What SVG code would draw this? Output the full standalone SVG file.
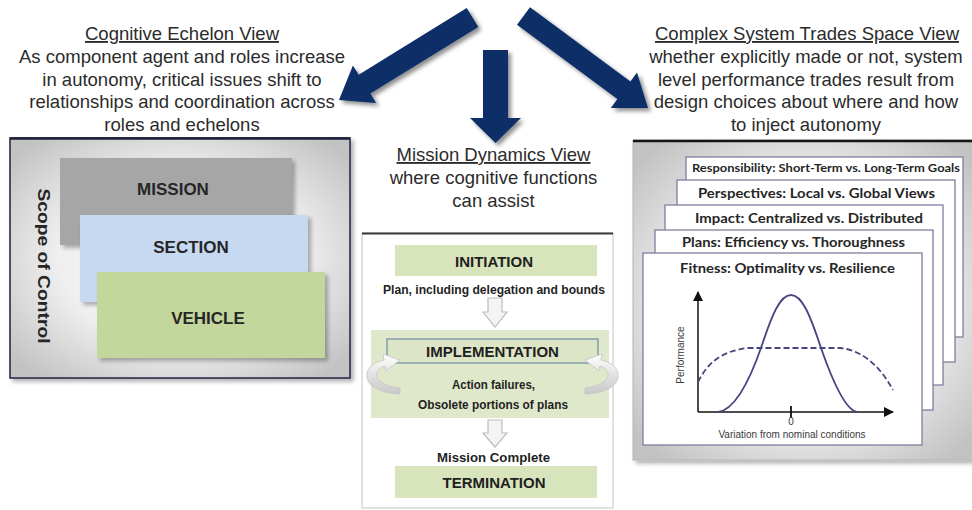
<svg xmlns="http://www.w3.org/2000/svg" width="972" height="510" viewBox="0 0 972 510">
<style>
.hdr{font-family:"Liberation Sans",Arial,sans-serif;font-size:18.5px;fill:#2b2b2b;text-anchor:middle}
.ul{text-decoration:underline}
.lvl{font-family:"Liberation Sans",Arial,sans-serif;font-size:17px;font-weight:bold;fill:#262626;text-anchor:middle}
.mid{font-family:"Liberation Sans",Arial,sans-serif;font-weight:bold;fill:#1f1f1f;text-anchor:middle}
.card{fill:#ffffff;stroke:#7d7f9c;stroke-width:1.3}
.ct{font-family:Lato,"Liberation Sans",sans-serif;font-weight:bold;fill:#262626;text-anchor:middle}
.ax{font-family:"Liberation Sans",Arial,sans-serif;font-size:10px;fill:#3a3a3a;text-anchor:middle}
.big{fill:#0a2f66;filter:url(#sh)}
.small{fill:#f4f4f4;stroke:#bdbdbd;stroke-width:1.2}
.curl{fill:url(#curlG);stroke:#c4c4c4;stroke-width:0.8}
</style>
<defs>
<filter id="sh" x="-20%" y="-20%" width="150%" height="150%"><feDropShadow dx="3" dy="3" stdDeviation="2" flood-color="#000" flood-opacity="0.45"/></filter>
<filter id="sh2" x="-10%" y="-10%" width="130%" height="130%"><feDropShadow dx="3" dy="3" stdDeviation="2" flood-color="#000" flood-opacity="0.3"/></filter>
<radialGradient id="panelG" cx="50%" cy="50%" r="65%"><stop offset="0" stop-color="#ffffff"/><stop offset="0.55" stop-color="#efefef"/><stop offset="1" stop-color="#c2c2c2"/></radialGradient>
<linearGradient id="curlG" x1="0" y1="0" x2="0" y2="1"><stop offset="0" stop-color="#ffffff"/><stop offset="1" stop-color="#c8c8c8"/></linearGradient>
<marker id="axh" viewBox="0 0 10 10" refX="9" refY="5" markerWidth="7" markerHeight="7" orient="auto"><path d="M0,0 L10,5 L0,10 Z" fill="#111"/></marker>
</defs>
<rect width="972" height="510" fill="#ffffff"/>

<g id="cognitive-echelon-text">
<text class="hdr ul" x="182" y="40">Cognitive Echelon View</text>
<text class="hdr" x="182" y="63">As component agent and roles increase</text>
<text class="hdr" x="182" y="85.5">in autonomy, critical issues shift to</text>
<text class="hdr" x="182" y="108">relationships and coordination across</text>
<text class="hdr" x="182" y="130.5">roles and echelons</text>
</g>

<g id="trades-space-text">
<text class="hdr ul" x="807" y="40">Complex System Trades Space View</text>
<text class="hdr" x="806" y="63">whether explicitly made or not, system</text>
<text class="hdr" x="806" y="85.5">level performance trades result from</text>
<text class="hdr" x="806" y="108">design choices about where and how</text>
<text class="hdr" x="806" y="130.5">to inject autonomy</text>
</g>

<g id="mission-dynamics-text">
<text class="hdr ul" x="493.5" y="161">Mission Dynamics View</text>
<text class="hdr" x="493.5" y="184">where cognitive functions</text>
<text class="hdr" x="493.5" y="206.5">can assist</text>
</g>

<g id="echelon-panel">
<rect x="10" y="138" width="340" height="240" fill="url(#panelG)" stroke="#2a2d4a" stroke-width="1.6" filter="url(#sh2)"/>
<line x1="10" y1="138.5" x2="350" y2="138.5" stroke="#1c1f38" stroke-width="2.5"/>
<text class="lvl" transform="translate(38,266) rotate(90)" text-anchor="middle" font-size="25" textLength="155" lengthAdjust="spacingAndGlyphs">Scope of Control</text>
</g>
<g id="mission">
<rect x="60" y="158" width="232" height="87" fill="#a6a6a6" filter="url(#sh2)"/>
<text class="lvl" x="173" y="195">MISSION</text>
</g>
<g id="section">
<rect x="80" y="215" width="228" height="87" fill="#c6d9f0" filter="url(#sh2)"/>
<text class="lvl" x="191" y="253">SECTION</text>
</g>
<g id="vehicle">
<rect x="97" y="272" width="228" height="86" fill="#c3d69b" filter="url(#sh2)"/>
<text class="lvl" x="208" y="324">VEHICLE</text>
</g>

<g id="dynamics-panel">
<rect x="362" y="233" width="251" height="275" fill="#ffffff" stroke="#c4c4c4" stroke-width="1"/>
<line x1="362" y1="233.5" x2="613" y2="233.5" stroke="#3a3a3a" stroke-width="2"/>
</g>
<g id="initiation">
<rect x="395" y="245" width="202" height="31" fill="#d8e4bc"/>
<text class="mid" x="494" y="267" font-size="15">INITIATION</text>
<text class="mid" x="494" y="294" font-size="12.5" textLength="222" lengthAdjust="spacingAndGlyphs">Plan, including delegation and bounds</text>
</g>
<g id="implementation">
<rect x="371" y="330" width="238" height="88" fill="#dfe8cb"/>
<rect x="387" y="339" width="211" height="24" fill="#dce6c6" stroke="#56789c" stroke-width="1"/>
<text class="mid" x="492.5" y="357" font-size="15">IMPLEMENTATION</text>
<text class="mid" x="493.5" y="389" font-size="13" textLength="83" lengthAdjust="spacingAndGlyphs">Action failures,</text>
<text class="mid" x="493" y="409" font-size="13" textLength="150" lengthAdjust="spacingAndGlyphs">Obsolete portions of plans</text>
<path class="curl" d="M400,394 C378,393 365,385 367,373 C369,366 375,362 384,360 L383,354 L400,360 L386,371 L385,366 C379,368 376,372 377,376 C379,383 388,387 400,388 Z"/>
<path class="curl" transform="translate(985,0) scale(-1,1)" d="M400,394 C378,393 365,385 367,373 C369,366 375,362 384,360 L383,354 L400,360 L386,371 L385,366 C379,368 376,372 377,376 C379,383 388,387 400,388 Z"/>
</g>
<g id="termination">
<text class="mid" x="493.5" y="462" font-size="13" textLength="113" lengthAdjust="spacingAndGlyphs">Mission Complete</text>
<rect x="395" y="466" width="202" height="32" fill="#d8e4bc"/>
<text class="mid" x="494" y="488" font-size="15">TERMINATION</text>
</g>

<g id="trades-panel">
<rect x="633" y="140" width="345" height="320" fill="url(#panelG)" stroke="#b5b5b5" stroke-width="1" filter="url(#sh2)"/>
<line x1="633" y1="141" x2="972" y2="141" stroke="#151515" stroke-width="2.5"/>
</g>
<g id="card-responsibility">
<rect class="card" x="686" y="157" width="277" height="180"/>
<text class="ct" x="826" y="172" font-size="12" textLength="268" lengthAdjust="spacingAndGlyphs">Responsibility: Short-Term vs. Long-Term Goals</text>
</g>
<g id="card-perspectives">
<rect class="card" x="677" y="180" width="278" height="182"/>
<text class="ct" x="816.5" y="198" font-size="14" textLength="237" lengthAdjust="spacingAndGlyphs">Perspectives: Local vs. Global Views</text>
</g>
<g id="card-impact">
<rect class="card" x="665" y="205" width="278" height="180"/>
<text class="ct" x="809" y="223" font-size="14" textLength="228" lengthAdjust="spacingAndGlyphs">Impact: Centralized vs. Distributed</text>
</g>
<g id="card-plans">
<rect class="card" x="655" y="230" width="278" height="180"/>
<text class="ct" x="793.5" y="247" font-size="14" textLength="223" lengthAdjust="spacingAndGlyphs">Plans: Efficiency vs. Thoroughness</text>
</g>
<g id="card-fitness">
<rect class="card" x="643" y="253" width="279" height="192"/>
<text class="ct" x="787.5" y="273" font-size="14" textLength="215" lengthAdjust="spacingAndGlyphs">Fitness: Optimality vs. Resilience</text>
<line x1="698" y1="412" x2="698" y2="292" stroke="#111" stroke-width="1.5" marker-end="url(#axh)"/>
<line x1="698" y1="412" x2="893" y2="412" stroke="#111" stroke-width="1.5" marker-end="url(#axh)"/>
<line x1="791" y1="406" x2="791" y2="418" stroke="#111" stroke-width="1.8"/>
<text class="ax" x="791" y="425">0</text>
<text class="ax" x="792" y="438">Variation from nominal conditions</text>
<text class="ax" transform="translate(684,355) rotate(-90)">Performance</text>
<path d="M718,412 C735,410 750,380 762,345 C772,315 780,295 791,295 C802,295 810,315 820,345 C832,380 845,410 857,412" fill="none" stroke="#45457f" stroke-width="1.8"/>
<path d="M698,382 C708,362 722,351 748,348 L840,348 C862,350 880,366 893,390" fill="none" stroke="#45457f" stroke-width="1.8" stroke-dasharray="6,3"/>
</g>

<g id="connectors">
<polygon class="big" points="466.7,8.1 478.3,26.9 370.3,93.6 376.1,102.9 339,100 352.9,65.5 358.7,74.8"/>
<polygon class="big" points="483,50 508,50 508,118 521,118 495.5,143 470,118 483,118"/>
<polygon class="big" points="530,7.2 630.4,81.4 637,72.5 648,108 610.8,107.9 617.4,99 517,24.8"/>
<polygon class="small" points="488,298 502,298 502,312 507,312 495,327 483,312 488,312"/>
<polygon class="small" points="488,420 502,420 502,433 507,433 495,447 483,433 488,433"/>
</g>
</svg>
